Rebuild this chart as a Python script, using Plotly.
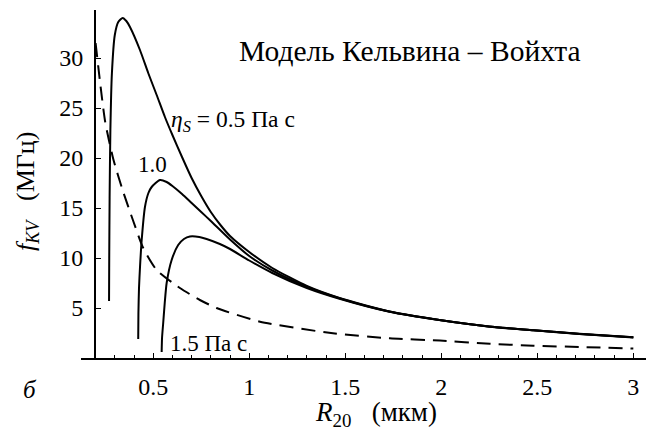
import plotly.graph_objects as go

# ---------------- data ----------------
R_05 = [0.270, 0.271, 0.273, 0.277, 0.285, 0.300, 0.318, 0.341, 0.360, 0.379, 0.431, 0.474,
        0.518, 0.561, 0.60, 0.65, 0.70, 0.75, 0.80, 0.85, 0.90, 1.00, 1.12, 1.30, 1.47, 1.73,
        1.99, 2.25, 2.48, 2.72, 3.00]
F_05 = [5.7, 10.0, 16.0, 22.8, 28.5, 32.3, 33.6, 34.0, 33.7, 33.1, 30.8, 28.5,
        26.3, 24.1, 22.3, 20.1, 18.0, 16.2, 14.6, 13.3, 12.2, 10.6, 9.0, 7.2, 6.0, 4.65,
        3.8, 3.15, 2.78, 2.42, 2.08]

R_10 = [0.422, 0.423, 0.426, 0.431, 0.440, 0.457, 0.475, 0.492, 0.535, 0.570, 0.60, 0.65,
        0.70, 0.75, 0.80, 0.90, 1.00, 1.12, 1.30, 1.47, 1.73, 1.99, 2.25, 2.48, 2.72, 3.00]
F_10 = [1.9, 4.5, 7.0, 9.0, 11.8, 15.1, 16.5, 17.1, 17.8, 17.6, 17.2, 16.4,
        15.5, 14.6, 13.7, 11.85, 10.2, 8.75, 7.12, 5.97, 4.64, 3.8, 3.14, 2.78, 2.41, 2.07]

R_15 = [0.544, 0.546, 0.552, 0.560, 0.570, 0.596, 0.630, 0.660, 0.691, 0.740, 0.778, 0.847,
        0.90, 1.00, 1.12, 1.30, 1.47, 1.73, 1.99, 2.25, 2.48, 2.72, 3.00]
F_15 = [0.6, 2.0, 3.5, 5.5, 7.5, 9.8, 11.3, 11.9, 12.15, 12.1, 11.9, 11.4,
        10.9, 9.75, 8.5, 7.0, 5.93, 4.63, 3.79, 3.13, 2.77, 2.40, 2.06]

R_D = [0.200, 0.225, 0.250, 0.292, 0.344, 0.396, 0.448, 0.518, 0.639, 0.743, 0.830, 1.056,
       1.436, 1.732, 1.993, 2.253, 2.479, 2.720, 3.000]
F_D = [31.5, 27.3, 23.6, 19.9, 16.6, 13.7, 11.0, 8.8, 7.0, 5.8, 5.0, 3.63,
       2.47, 1.97, 1.74, 1.42, 1.23, 1.10, 0.95]

X_TICKS = [0.5, 1, 1.5, 2, 2.5, 3]
X_TICKTEXT = ["0.5", "1", "1.5", "2", "2.5", "3"]
Y_TICKS = [5, 10, 15, 20, 25, 30]

# ---------------- layout geometry ----------------
W, H = 646, 439
L, R_M, T, B = 81, 0, 10, 81
PW, PH = W - L - R_M, H - T - B
X_RANGE = [0.124, 3.066]
Y_RANGE = [0, 34.8]
Y_AXIS_AT = 0.196

def px(xp):
    return (xp - L) / PW

def py(yp):
    return (H - B - yp) / PH

SERIF = "Liberation Serif"

fig = go.Figure()
for rx, fy in [(R_05, F_05), (R_10, F_10), (R_15, F_15)]:
    fig.add_trace(go.Scatter(x=rx, y=fy, mode="lines",
                             line=dict(color="black", width=2, shape="spline", smoothing=0.6),
                             showlegend=False, hoverinfo="skip"))
fig.add_trace(go.Scatter(x=R_D, y=F_D, mode="lines",
                         line=dict(color="black", width=2, dash="14px,8px",
                                   shape="spline", smoothing=0.6),
                         showlegend=False, hoverinfo="skip"))

ypos = (Y_AXIS_AT - X_RANGE[0]) / (X_RANGE[1] - X_RANGE[0])

fig.update_layout(
    width=W, height=H,
    margin=dict(l=L, r=R_M, t=T, b=B),
    paper_bgcolor="white", plot_bgcolor="white",
    font=dict(family=SERIF, color="black", size=23),
    xaxis=dict(range=X_RANGE, showgrid=False, zeroline=False,
               showline=True, linecolor="black", linewidth=1.6,
               tickvals=X_TICKS, ticktext=X_TICKTEXT, ticks="inside", ticklen=5,
               tickwidth=1.3, tickcolor="black", ticklabelstandoff=6,
               tickfont=dict(family=SERIF, size=24, color="black"),
               minor=dict(dtick=0.1, tick0=0, ticks="inside", ticklen=3,
                          tickwidth=1, tickcolor="black")),
    yaxis=dict(range=Y_RANGE, showgrid=False, zeroline=False,
               anchor="free", position=ypos,
               showline=True, linecolor="black", linewidth=1.6,
               tickvals=Y_TICKS, ticks="inside", ticklen=5, tickwidth=1.3,
               tickcolor="black", ticklabelstandoff=6,
               tickfont=dict(family=SERIF, size=24, color="black")),
)

ann = [
    dict(text="Модель Кельвина – Войхта", x=px(410), y=py(51), size=29.5, xa="center"),
    dict(text="<i>η</i><sub><i>S</i></sub> = 0.5 Па с", x=px(169), y=py(121), size=23.5, xa="left"),
    dict(text="1.0", x=px(136), y=py(164), size=23, xa="left"),
    dict(text="1.5 Па с", x=px(168), y=py(343), size=23, xa="left"),
    dict(text="<i>б</i>", x=px(30), y=py(390), size=25, xa="center"),
    dict(text="<i>R</i><sub>20</sub>\u00a0\u00a0\u00a0(мкм)", x=px(376), y=py(414), size=27, xa="center"),
]
for a in ann:
    fig.add_annotation(text=a["text"], x=a["x"], y=a["y"], xref="paper", yref="paper",
                       xanchor=a["xa"], yanchor="middle", showarrow=False,
                       font=dict(family=SERIF, size=a["size"], color="black"))

fig.add_annotation(text="<i>f</i><sub><i>KV</i></sub>\u00a0\u00a0\u00a0(МГц)", x=px(27), y=py(192),
                   xref="paper", yref="paper", textangle=-90, showarrow=False,
                   xanchor="center", yanchor="middle",
                   font=dict(family=SERIF, size=26, color="black"))

fig.write_html("out.html")
